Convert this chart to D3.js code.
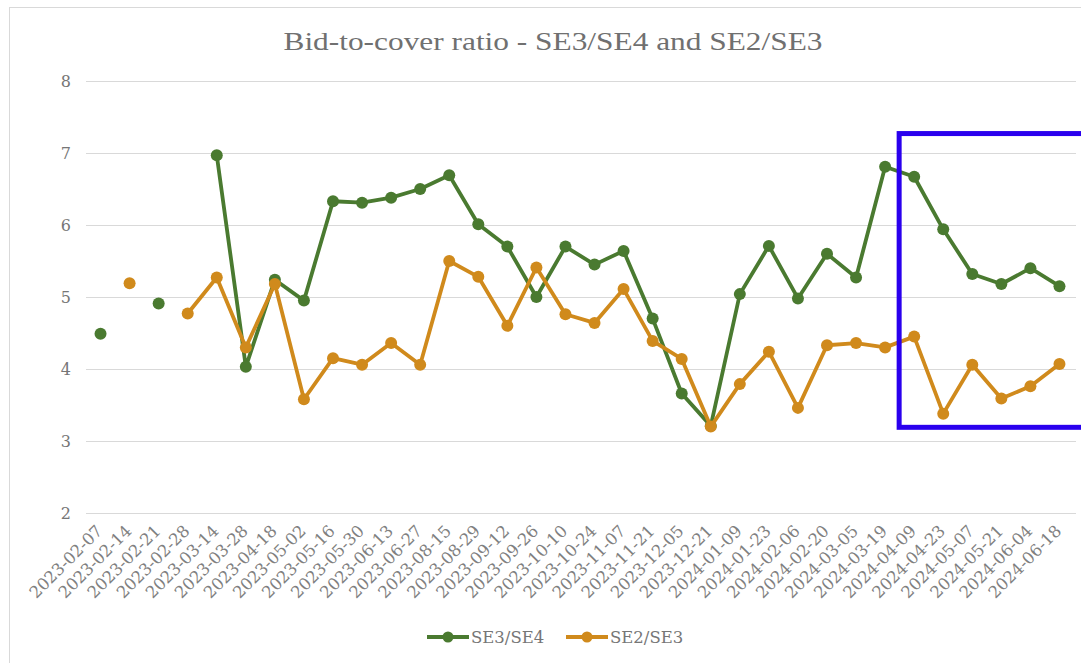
<!DOCTYPE html>
<html>
<head>
<meta charset="utf-8">
<script src="https://cdn.jsdelivr.net/npm/d3@7"></script>
<style>
  body { margin: 0; background: #fff; }
  svg { display: block; font-family: "DejaVu Serif", Georgia, serif; }
</style>
</head>
<body>
<svg id="chart" width="1081" height="663"></svg>
<script>
const dates = ['2023-02-07','2023-02-14','2023-02-21','2023-02-28','2023-03-14','2023-03-28','2023-04-18',
  '2023-05-02','2023-05-16','2023-05-30','2023-06-13','2023-06-27','2023-08-15','2023-08-29','2023-09-12',
  '2023-09-26','2023-10-10','2023-10-24','2023-11-07','2023-11-21','2023-12-05','2023-12-21','2024-01-09',
  '2024-01-23','2024-02-06','2024-02-20','2024-03-05','2024-03-19','2024-04-09','2024-04-23','2024-05-07',
  '2024-05-21','2024-06-04','2024-06-18'];

const se3se4 = [4.49, null, 4.91, null, 6.97, 4.03, 5.24, 4.95, 6.33, 6.31, 6.38, 6.50, 6.69, 6.01, 5.70,
  5.00, 5.70, 5.45, 5.64, 4.70, 3.66, 3.21, 5.04, 5.71, 4.98, 5.60, 5.27, 6.81, 6.67, 5.94, 5.32, 5.18, 5.40, 5.15];

const se2se3 = [null, 5.19, null, 4.77, 5.27, 4.30, 5.18, 3.58, 4.15, 4.06, 4.36, 4.06, 5.50, 5.28, 4.60,
  5.41, 4.76, 4.64, 5.11, 4.39, 4.14, 3.20, 3.79, 4.24, 3.46, 4.33, 4.36, 4.30, 4.45, 3.38, 4.06, 3.59, 3.76, 4.07];

const yTicks = [2, 3, 4, 5, 6, 7, 8];

const series = [
  { name: 'SE3/SE4', values: se3se4, color: '#4a7a30' },
  { name: 'SE2/SE3', values: se2se3, color: '#d08a1c' }
];

const svg = d3.select('#chart');
const textCol = '#767676';

// outer chart frame (only top/left visible in the crop)
svg.append('rect')
  .attr('x', 9.5).attr('y', 7.5)
  .attr('width', 1100).attr('height', 700)
  .attr('fill', 'none').attr('stroke', '#d9d9d9');

const x = d3.scaleBand().domain(dates).range([86, 1074]);
const y = d3.scaleLinear().domain([2, 8]).range([513, 81]);

// gridlines
svg.append('g').selectAll('line').data(yTicks).join('line')
  .attr('x1', 86).attr('x2', 1076)
  .attr('y1', d => y(d) + 0.5).attr('y2', d => y(d) + 0.5)
  .attr('stroke', '#d9d9d9').attr('stroke-width', 1.2);

// y labels
svg.append('g').selectAll('text').data(yTicks).join('text')
  .attr('x', 71).attr('y', d => y(d))
  .attr('dy', '0.35em')
  .attr('text-anchor', 'end')
  .attr('fill', textCol)
  .style('font-size', '16px')
  .text(d => d);

// x labels rotated
const cx = d => x(d) + x.bandwidth() / 2;
svg.append('g').selectAll('text').data(dates).join('text')
  .attr('transform', d => `translate(${cx(d) + 3},${532}) rotate(-45)`)
  .attr('text-anchor', 'end')
  .attr('fill', '#808080')
  .style('font-size', '16.5px')
  .text(d => d);

// title
svg.append('text')
  .attr('x', 553).attr('y', 50)
  .attr('text-anchor', 'middle')
  .attr('fill', '#707070')
  .attr('textLength', 539)
  .attr('lengthAdjust', 'spacingAndGlyphs')
  .style('font-size', '25px')
  .style('font-family', '"Liberation Serif", serif')
  .text('Bid-to-cover ratio - SE3/SE4 and SE2/SE3');

// lines + markers
const line = d3.line()
  .defined(d => d.v != null)
  .x(d => cx(d.date))
  .y(d => y(d.v));

series.forEach(s => {
  const pts = dates.map((date, i) => ({ date, v: s.values[i] }));
  svg.append('path')
    .datum(pts)
    .attr('d', line)
    .attr('fill', 'none')
    .attr('stroke', s.color)
    .attr('stroke-width', 3.8)
    .attr('stroke-linejoin', 'round');
  svg.append('g').selectAll('circle').data(pts.filter(d => d.v != null)).join('circle')
    .attr('cx', d => cx(d.date)).attr('cy', d => y(d.v))
    .attr('r', 6)
    .attr('fill', s.color);
});

// highlight box (annotation)
const boxLeft = x('2024-03-19') + x.bandwidth() * 1.0 - 0.5;
svg.append('rect')
  .attr('x', boxLeft).attr('y', y(7.27))
  .attr('width', 300).attr('height', y(3.19) - y(7.27))
  .attr('fill', 'none')
  .attr('stroke', '#2a00ee')
  .attr('stroke-width', 5);

// legend
const legend = svg.append('g').attr('transform', 'translate(427,637)');
const legX = [0, 139];
series.forEach((s, i) => {
  const g = legend.append('g').attr('transform', `translate(${legX[i]},0)`);
  g.append('line').attr('x1', 0).attr('x2', 42).attr('y1', 0).attr('y2', 0)
    .attr('stroke', s.color).attr('stroke-width', 3.8);
  g.append('circle').attr('cx', 21).attr('cy', 0).attr('r', 5.5).attr('fill', s.color);
  g.append('text').attr('x', 44).attr('y', 0).attr('dy', '0.35em')
    .attr('fill', textCol).style('font-size', '16.5px')
    .text(s.name);
});
</script>
</body>
</html>
